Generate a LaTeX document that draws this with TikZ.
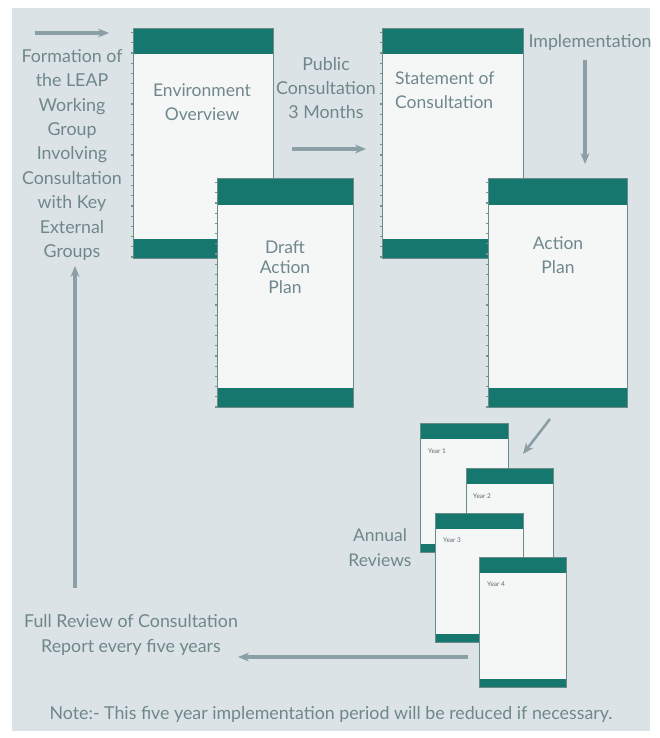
\documentclass[tikz,border=0pt]{standalone}
\usepackage{fontspec}
\setmainfont{Lato}
\usetikzlibrary{arrows.meta}
\definecolor{panel}{HTML}{DCE3E6}
\definecolor{tealband}{HTML}{16776F}
\definecolor{docfill}{HTML}{F5F7F7}
\definecolor{docline}{HTML}{6A8C89}
\definecolor{txtc}{HTML}{6F878C}
\definecolor{arrc}{HTML}{8A9FA6}
\definecolor{tickc}{HTML}{7E9192}
\tikzset{
  doc/.style={draw=docline, line width=1pt, fill=docfill, inner sep=0pt, anchor=north west},
  bands/.style 2 args={path picture={
    \fill[tealband] (path picture bounding box.north west) rectangle ([yshift=-#1]path picture bounding box.north east);
    \fill[tealband] (path picture bounding box.south west) rectangle ([yshift=#2]path picture bounding box.south east);}},
  bigdoc/.style={doc, bands={26pt}{20pt}},
  smalldoc/.style={doc, bands={15pt}{9pt}, minimum width=88pt, minimum height=129pt},
  ticks/.style={draw=tickc, line width=2.6pt, dash pattern=on 1.2pt off 9pt},
  lbl/.style={text=txtc, font=\fontsize{17.8}{24.4}\selectfont, align=center, inner sep=0pt},
  doclbl/.style={text=txtc, font=\fontsize{17.5}{24}\selectfont, align=center, inner sep=0pt},
  yearlbl/.style={text=txtc!80!black, font=\fontsize{6.5}{7}\selectfont, anchor=west, inner sep=0pt},
  arr/.style={draw=arrc, line width=3.4pt, -{Stealth[length=11pt,width=9pt]}},
}
\begin{document}
\begin{tikzpicture}[x=1pt,y=-1pt]
\useasboundingbox (0,0) rectangle (659,738);
\fill[white] (0,0) rectangle (659,738);
\fill[panel] (12,8) rectangle (650,731);

% big documents
\node[bigdoc, minimum width=140pt, minimum height=230pt] (env) at (133,28) {};
\draw[ticks] ([xshift=-1pt,yshift=-4pt]env.north west) -- ([xshift=-1pt]env.south west);
\node[bigdoc, minimum width=141pt, minimum height=230pt] (stmt) at (382,28) {};
\draw[ticks] ([xshift=-1pt,yshift=-4pt]stmt.north west) -- ([xshift=-1pt]stmt.south west);
\node[bigdoc, minimum width=136pt, minimum height=229pt] (draft) at (217,178) {};
\draw[ticks] ([xshift=-1pt,yshift=-4pt]draft.north west) -- ([xshift=-1pt]draft.south west);
\node[bigdoc, minimum width=139pt, minimum height=229pt] (action) at (488,178) {};
\draw[ticks] ([xshift=-1pt,yshift=-4pt]action.north west) -- ([xshift=-1pt]action.south west);

% document texts
\node[doclbl] (envt) at (202,102) {Environment\\Overview};
\node[doclbl, align=left, anchor=west] (stmtt) at (395,90) {Statement of\\Consultation};
\node[doclbl, font=\fontsize{17.5}{20}\selectfont] (draftt) at (285,267) {Draft\\Action\\Plan};
\node[doclbl] (actiont) at (558,255) {Action\\Plan};

% small documents (annual reviews)
\node[smalldoc] (y1) at (420,423) {};
\node[yearlbl] (y1t) at (428,451) {Year 1};
\node[smalldoc, minimum width=87pt] (y2) at (466,468) {};
\node[yearlbl] (y2t) at (473,496) {Year 2};
\node[smalldoc] (y3) at (435,513) {};
\node[yearlbl] (y3t) at (443,540) {Year 3};
\node[smalldoc, minimum width=87pt, minimum height=130pt] (y4) at (479,557) {};
\node[yearlbl] (y4t) at (487,584) {Year 4};

% free labels
\node[lbl] (formation) at (72,155) {Formation of\\the LEAP\\Working\\Group\\Involving\\Consultation\\with Key\\External\\Groups};
\node[lbl] (public) at (326,88) {Public\\Consultation\\3 Months};
\node[lbl] (impl) at (590,42) {Implementation};
\node[lbl, font=\fontsize{17.5}{25}\selectfont] (annual) at (380,548) {Annual\\Reviews};
\node[lbl] (fullrev) at (131,635) {Full Review of Consultation\\Report every five years};
\node[lbl] (note) at (331,714) {Note:- This five year implementation period will be reduced if necessary.};

% connectors
\coordinate (a1s) at (35,33);
\coordinate (a1e) at (109,33);
\draw[arr] (a1s) -- (a1e);
\coordinate (a2s) at (292,149);
\coordinate (a2e) at (366,149);
\draw[arr] (a2s) -- (a2e);
\coordinate (a3s) at (585,60);
\coordinate (a3e) at (585,164);
\draw[arr] (a3s) -- (a3e);
\coordinate (a4s) at (550,419);
\coordinate (a4e) at (523,454);
\draw[arr, line width=2.6pt] (a4s) -- (a4e);
\coordinate (a5s) at (468,657);
\coordinate (a5e) at (238,657);
\draw[arr] (a5s) -- (a5e);
\coordinate (a6s) at (75,588);
\coordinate (a6e) at (75,266);
\draw[arr] (a6s) -- (a6e);
\end{tikzpicture}
\end{document}
